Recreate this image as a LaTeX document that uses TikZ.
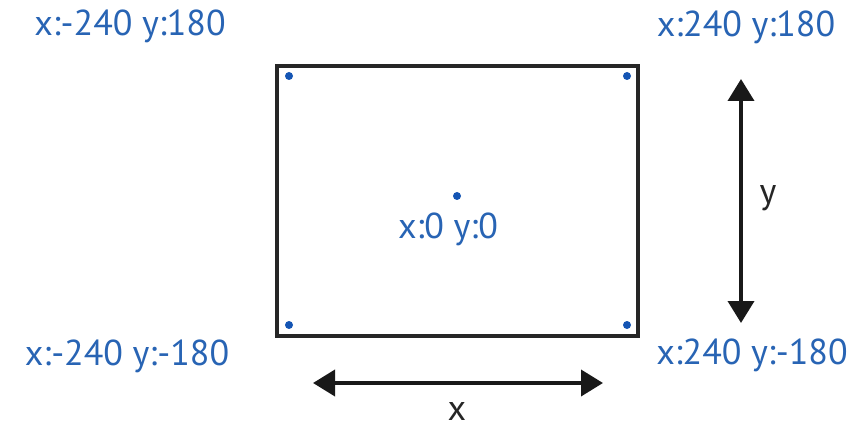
\documentclass[tikz,border=0pt]{standalone}
\usepackage{fontspec}
\setmainfont{PT Sans}
\usetikzlibrary{arrows.meta}
\definecolor{lblblue}{RGB}{40,100,180}
\definecolor{dotblue}{RGB}{20,85,180}
\tikzset{
  lbl/.style={text=lblblue, font=\fontsize{36}{40}\selectfont, inner sep=0pt, anchor=center},
  axlbl/.style={text=black!85, font=\fontsize{36}{40}\selectfont, inner sep=0pt, anchor=center},
  pt/.style={circle, fill=dotblue, inner sep=0pt, minimum size=8pt},
  frame/.style={draw=black!85, line width=4pt, inner sep=0pt},
  dim/.style={draw=black!90, line width=3.8pt, {Triangle[length=22pt,width=26pt]}-{Triangle[length=22pt,width=26pt]}}
}
\begin{document}
\begin{tikzpicture}[x=1pt,y=-1pt]
\useasboundingbox (0,0) rectangle (853,430);
\node[frame, minimum width=361pt, minimum height=270pt] (box) at (457.5,201) {};
\node[pt] (p1) at (289,76) {};
\node[pt] (p2) at (627,76) {};
\node[pt] (p3) at (289,325) {};
\node[pt] (p4) at (627,325) {};
\node[pt] (p0) at (457,196) {};
\node[lbl] (l1) at (130,26) {x:-240 y:180};
\node[lbl] (l2) at (746,27) {x:240 y:180};
\node[lbl] (l3) at (127,356) {x:-240 y:-180};
\node[lbl] (l4) at (752,355) {x:240 y:-180};
\node[lbl] (l0) at (448,229) {x:0 y:0};
\coordinate (xa) at (313,383);
\coordinate (xb) at (603,383);
\coordinate (ya) at (741,79);
\coordinate (yb) at (741,323);
\draw[dim] (xa) -- (xb);
\draw[dim] (ya) -- (yb);
\node[axlbl] (xl) at (457,411) {x};
\node[axlbl] (yl) at (768,198) {y};
\end{tikzpicture}
\end{document}
